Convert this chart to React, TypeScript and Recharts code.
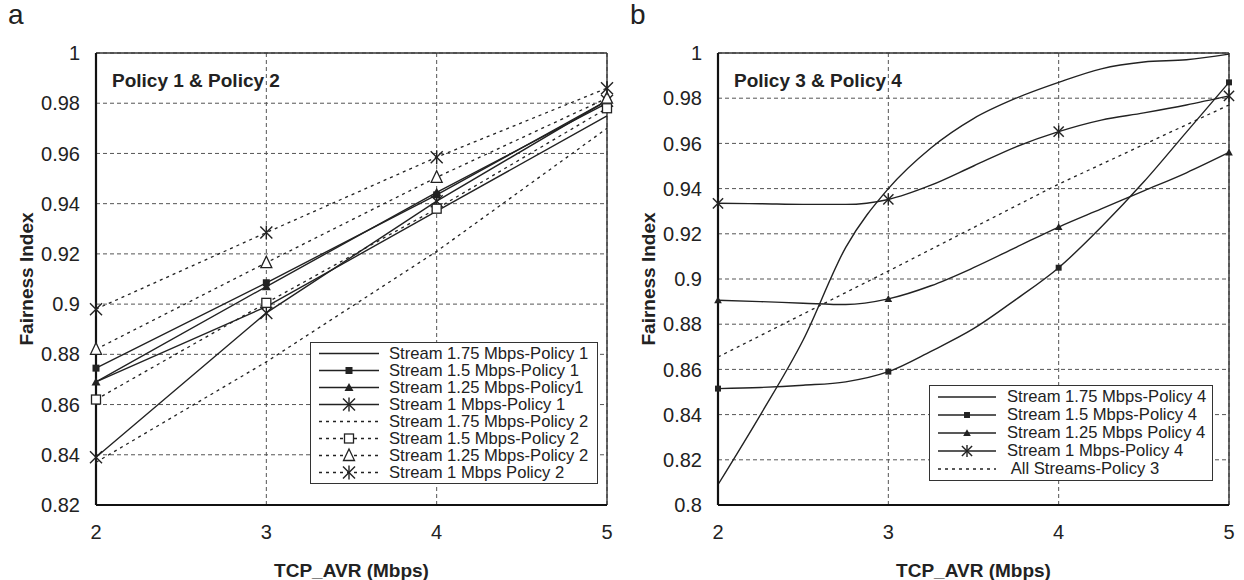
import React from "react";
import { LineChart, Line, XAxis, YAxis, CartesianGrid, ReferenceLine } from "recharts";

// ---- data: panel a (Policy 1 & Policy 2) ----
const xLeft = [2, 3, 4, 5];
const s175p1 = [0.869, 0.899, 0.937, 0.975];
const s150p1 = [0.8745, 0.9085, 0.9435, 0.981];
const s125p1 = [0.869, 0.907, 0.9445, 0.98];
const s100p1 = [0.839, 0.8965, 0.941, 0.981];
const s175p2 = [0.837, 0.877, 0.921, 0.97];
const s150p2 = [0.862, 0.9005, 0.938, 0.978];
const s125p2 = [0.882, 0.9165, 0.9505, 0.982];
const s100p2 = [0.898, 0.9285, 0.9585, 0.986];

// ---- data: panel b (Policy 3 & Policy 4) ----
const xRight = [2, 2.25, 2.5, 2.75, 3, 3.25, 3.5, 3.75, 4, 4.25, 4.5, 4.75, 5];
const s175p4 = [0.809, 0.84, 0.873, 0.914, 0.94, 0.958, 0.971, 0.98, 0.987, 0.993, 0.996, 0.997, 0.9995];
const s150p4 = [0.8515, 0.852, 0.853, 0.8545, 0.859, 0.868, 0.878, 0.891, 0.905, 0.923, 0.943, 0.965, 0.987];
const s125p4 = [0.8906, 0.89, 0.8893, 0.8887, 0.8912, 0.897, 0.905, 0.914, 0.923, 0.931, 0.939, 0.947, 0.956];
const s100p4 = [0.9335, 0.9333, 0.933, 0.933, 0.9352, 0.9415, 0.95, 0.9585, 0.9652, 0.9703, 0.9735, 0.977, 0.981];
const xP3 = [2, 3, 4, 5];
const allP3 = [0.8655, 0.9035, 0.942, 0.977];

const xTicks = [2, 3, 4, 5];
const yTicksLeft = [0.82, 0.84, 0.86, 0.88, 0.9, 0.92, 0.94, 0.96, 0.98, 1];
const yTicksRight = [0.8, 0.82, 0.84, 0.86, 0.88, 0.9, 0.92, 0.94, 0.96, 0.98, 1];

const FONT = "'Liberation Sans', Arial, sans-serif";
const INK = "#222";
const DOT = "3 4";

type Shape = "none" | "sq" | "tri" | "star" | "osq" | "otri";

const leftSeries = [
  { name: "Stream 1.75 Mbps-Policy 1", xs: xLeft, ys: s175p1, dotted: false, mark: "none" as Shape },
  { name: "Stream 1.5 Mbps-Policy 1", xs: xLeft, ys: s150p1, dotted: false, mark: "sq" as Shape },
  { name: "Stream 1.25 Mbps-Policy1", xs: xLeft, ys: s125p1, dotted: false, mark: "tri" as Shape },
  { name: "Stream 1 Mbps-Policy 1", xs: xLeft, ys: s100p1, dotted: false, mark: "star" as Shape },
  { name: "Stream 1.75 Mbps-Policy 2", xs: xLeft, ys: s175p2, dotted: true, mark: "none" as Shape },
  { name: "Stream 1.5 Mbps-Policy 2", xs: xLeft, ys: s150p2, dotted: true, mark: "osq" as Shape },
  { name: "Stream 1.25 Mbps-Policy 2", xs: xLeft, ys: s125p2, dotted: true, mark: "otri" as Shape },
  { name: "Stream 1 Mbps Policy 2", xs: xLeft, ys: s100p2, dotted: true, mark: "star" as Shape },
];

const rightSeries = [
  { name: "Stream 1.75 Mbps-Policy 4", xs: xRight, ys: s175p4, dotted: false, mark: "none" as Shape },
  { name: "Stream 1.5 Mbps-Policy 4", xs: xRight, ys: s150p4, dotted: false, mark: "sq" as Shape },
  { name: "Stream 1.25 Mbps Policy 4", xs: xRight, ys: s125p4, dotted: false, mark: "tri" as Shape },
  { name: "Stream 1 Mbps-Policy 4", xs: xRight, ys: s100p4, dotted: false, mark: "star" as Shape },
  { name: " All Streams-Policy 3", xs: xP3, ys: allP3, dotted: true, mark: "none" as Shape },
];

function Marker({ cx, cy, shape, small }: { cx: number; cy: number; shape: Shape; small?: boolean }) {
  const k = small ? 0.85 : 1;
  if (shape === "sq") {
    const h = 3.5 * k;
    return <rect x={cx - h} y={cy - h} width={2 * h} height={2 * h} fill={INK} />;
  }
  if (shape === "tri") {
    const h = 4.5 * k;
    return <path d={`M${cx},${cy - h} L${cx + h},${cy + h * 0.8} L${cx - h},${cy + h * 0.8} Z`} fill={INK} />;
  }
  if (shape === "star") {
    const h = 6 * k;
    return (
      <g stroke={INK} strokeWidth={1.4}>
        <line x1={cx - h} y1={cy - h} x2={cx + h} y2={cy + h} />
        <line x1={cx - h} y1={cy + h} x2={cx + h} y2={cy - h} />
        <line x1={cx} y1={cy - h - 1} x2={cx} y2={cy + h + 1} />
      </g>
    );
  }
  if (shape === "osq") {
    return <rect x={cx - 4.5} y={cy - 4.5} width={9} height={9} fill="#fff" stroke={INK} strokeWidth={1.3} />;
  }
  if (shape === "otri") {
    return (
      <path d={`M${cx},${cy - 6.5} L${cx + 5.5},${cy + 5} L${cx - 5.5},${cy + 5} Z`} fill="#fff" stroke={INK} strokeWidth={1.3} />
    );
  }
  return null;
}

type Series = { name: string; xs: number[]; ys: number[]; dotted: boolean; mark: Shape };

function Panel({
  letter,
  title,
  series,
  yDomain,
  yTicks,
  curve,
  legendBox,
}: {
  letter: string;
  title: string;
  series: Series[];
  yDomain: [number, number];
  yTicks: number[];
  curve: "linear" | "monotone";
  legendBox: { left: number; top: number; width: number; rowH: number; sample: number; gap: number };
}) {
  const W = 622;
  const H = 580;
  return (
    <div style={{ position: "relative", width: W, height: H, fontFamily: FONT, color: INK }}>
      <LineChart width={W} height={H} margin={{ top: 53, right: 15, bottom: 35, left: 36 }}>
        <CartesianGrid stroke="#555" strokeDasharray="4 3" strokeWidth={1} />
        <XAxis
          type="number"
          dataKey="x"
          domain={[2, 5]}
          ticks={xTicks}
          height={40}
          tickSize={0}
          tickMargin={20}
          tickLine={false}
          axisLine={{ stroke: "#111", strokeWidth: 2.2 }}
          tick={{ fontSize: 20, fill: INK, fontFamily: FONT }}
          allowDuplicatedCategory={false}
        />
        <YAxis
          type="number"
          domain={yDomain}
          ticks={yTicks}
          width={60}
          tickSize={0}
          tickMargin={16}
          tickLine={false}
          axisLine={{ stroke: "#111", strokeWidth: 2.2 }}
          tick={{ fontSize: 20, fill: INK, fontFamily: FONT }}
          tickFormatter={(v: number) => String(v)}
        />
        <ReferenceLine y={1} stroke="#333" strokeWidth={1.4} />
        <ReferenceLine x={5} stroke="#333" strokeWidth={1.4} />
        {series.map((s, si) => (
          <Line
            key={s.name}
            data={s.xs.map((x, i) => ({ x, v: s.ys[i] }))}
            dataKey="v"
            type={s.dotted ? "linear" : curve}
            stroke={INK}
            strokeWidth={s.dotted ? 1.3 : 1.4}
            strokeDasharray={s.dotted ? DOT : undefined}
            isAnimationActive={false}
            activeDot={false}
            dot={(p: any) =>
              s.mark !== "none" && Number.isInteger(p.payload.x) ? (
                <Marker key={`m${si}-${p.index}`} cx={p.cx} cy={p.cy} shape={s.mark} small={curve === "monotone"} />
              ) : (
                <g key={`m${si}-${p.index}`} />
              )
            }
          />
        ))}
      </LineChart>

      <div style={{ position: "absolute", left: 8, top: 1, fontSize: 28, lineHeight: "28px" }}>{letter}</div>
      <div style={{ position: "absolute", left: 112, top: 70, fontSize: 19, lineHeight: "22px", fontWeight: "bold" }}>
        {title}
      </div>
      <div
        style={{
          position: "absolute",
          left: 96,
          width: 511,
          top: 561,
          textAlign: "center",
          fontSize: 19,
          lineHeight: "20px",
          fontWeight: "bold",
        }}
      >
        TCP_AVR (Mbps)
      </div>
      <div
        style={{
          position: "absolute",
          left: 27 - 150,
          top: 279 - 10,
          width: 300,
          height: 20,
          textAlign: "center",
          fontSize: 19,
          lineHeight: "20px",
          fontWeight: "bold",
          transform: "rotate(-90deg)",
        }}
      >
        Fairness Index
      </div>

      <div
        style={{
          position: "absolute",
          left: legendBox.left,
          top: legendBox.top,
          width: legendBox.width,
          padding: "2px 0 2px 8px",
          boxSizing: "border-box",
          border: "1.5px solid #333",
          background: "#fff",
          fontSize: 16.6,
        }}
      >
        {series.map((s) => (
          <div key={s.name} style={{ display: "flex", alignItems: "center", height: legendBox.rowH, whiteSpace: "pre" }}>
            <svg width={legendBox.sample} height={legendBox.rowH} style={{ flex: "none" }}>
              <line
                x1={0}
                x2={legendBox.sample}
                y1={legendBox.rowH / 2}
                y2={legendBox.rowH / 2}
                stroke={INK}
                strokeWidth={s.dotted ? 1.3 : 1.4}
                strokeDasharray={s.dotted ? DOT : undefined}
              />
              <Marker cx={legendBox.sample / 2} cy={legendBox.rowH / 2} shape={s.mark} small={curve === "monotone"} />
            </svg>
            <span style={{ marginLeft: legendBox.gap, lineHeight: `${legendBox.rowH}px` }}>{s.name}</span>
          </div>
        ))}
      </div>
    </div>
  );
}

export default function App() {
  return (
    <div style={{ position: "absolute", left: 0, top: 0, width: 1244, height: 580, background: "#fff" }}>
      <div style={{ position: "absolute", left: 0, top: 0 }}>
        <Panel
          letter="a"
          title="Policy 1 & Policy 2"
          series={leftSeries}
          yDomain={[0.82, 1]}
          yTicks={yTicksLeft}
          curve="linear"
          legendBox={{ left: 310, top: 342, width: 288, rowH: 17, sample: 60, gap: 10 }}
        />
      </div>
      <div style={{ position: "absolute", left: 622, top: 0 }}>
        <Panel
          letter="b"
          title="Policy 3 & Policy 4"
          series={rightSeries}
          yDomain={[0.8, 1]}
          yTicks={yTicksRight}
          curve="monotone"
          legendBox={{ left: 307, top: 385, width: 284, rowH: 18, sample: 58, gap: 11 }}
        />
      </div>
    </div>
  );
}
